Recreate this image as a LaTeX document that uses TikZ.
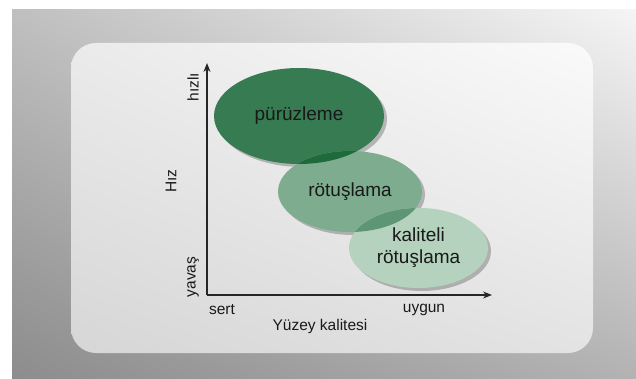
\documentclass[tikz,border=0pt]{standalone}
\usepackage{fontspec}
\setmainfont{Liberation Sans}
\usetikzlibrary{shapes.geometric,shadows,shadings,arrows.meta}

\definecolor{kaba}{HTML}{367B52}
\definecolor{orta}{HTML}{7DAD8E}
\definecolor{ince}{HTML}{B4D2BD}
\definecolor{kabaorta}{HTML}{1F6A3B}
\definecolor{ortaince}{HTML}{5E9675}

\begin{document}
\begin{tikzpicture}[x=1pt, y=1pt,
    bolge/.style={ellipse, inner sep=0pt, align=center, text=black!90,
      font=\fontsize{19}{22}\selectfont,
      drop shadow={shadow xshift=3pt, shadow yshift=-3pt, opacity=0.3, fill=black!80}},
    eksen/.style={font=\fontsize{15.5}{17}\selectfont, text=black!90}]

  \useasboundingbox (0,0) rectangle (636,378);

  % metal background and the light panel
  \shade[upper left=black!25, upper right=black!4, lower left=black!45, lower right=black!30]
    (12,0) rectangle (636,368);
  \shade[rounded corners=25pt, upper left=black!8, upper right=black!2,
    lower left=black!16, lower right=black!11] (71,25) rectangle (593,335);

  % axes
  \coordinate (O) at (207,83);
  \coordinate (ytepe) at (207,315);
  \coordinate (xuc) at (492,83);
  \draw[-{Stealth[length=9pt, width=7pt]}, line width=1.3pt, color=black!85] (O) -- (ytepe);
  \draw[-{Stealth[length=9pt, width=7pt]}, line width=1.3pt, color=black!85] (O) -- (xuc);

  \node[eksen, rotate=90] (hizli) at (193,291) {hızlı};
  \node[eksen, rotate=90] (hiz) at (171,197) {Hız};
  \node[eksen, rotate=90] (yavas) at (193,101) {yavaş};
  \node[eksen] (sert) at (222,68) {sert};
  \node[eksen] (uygun) at (424,68) {uygun};
  \node[eksen] (yuzey) at (320,52) {Yüzey kalitesi};

  % the three regions
  \node[bolge, fill=kaba, minimum width=170pt, minimum height=96pt] (puruz) at (299,262) {pürüzleme};
  \node[bolge, fill=orta, minimum width=144pt, minimum height=81pt] (rotus) at (350,186.5) {rötuşlama};
  \node[bolge, fill=ince, minimum width=139pt, minimum height=80pt] (kalite) at (418.5,130) {kaliteli\\rötuşlama};

  % overlaps
  \begin{scope}
    \clip (puruz.center) ellipse [x radius=85pt, y radius=48pt];
    \fill[color=kabaorta] (rotus.center) ellipse [x radius=72pt, y radius=40.5pt];
  \end{scope}
  \begin{scope}
    \clip (rotus.center) ellipse [x radius=72pt, y radius=40.5pt];
    \fill[color=ortaince] (kalite.center) ellipse [x radius=69.5pt, y radius=40pt];
  \end{scope}

\end{tikzpicture}
\end{document}
